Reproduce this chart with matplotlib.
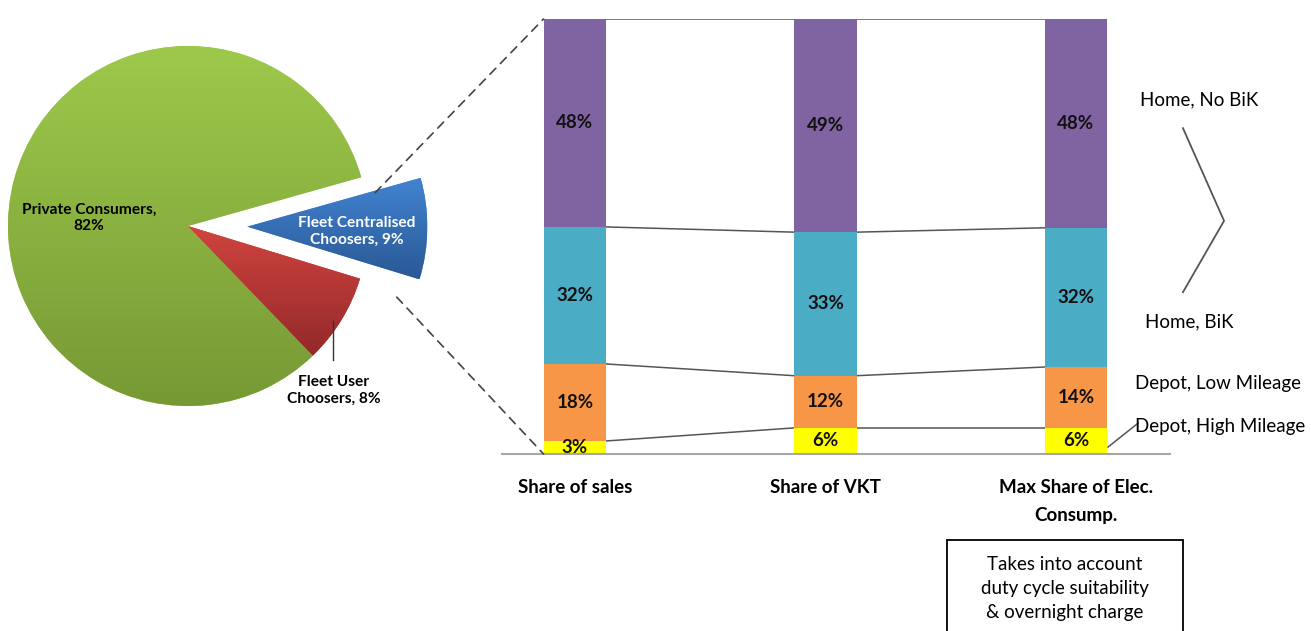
import matplotlib.pyplot as plt
import numpy as np
from matplotlib.patches import ConnectionPatch, Rectangle
from matplotlib.colors import LinearSegmentedColormap

plt.rcParams['font.family'] = ['Lato', 'DejaVu Sans']

# pie data (order = drawing order, counter-clockwise)
pie_labels = ['Fleet Centralised\nChoosers, 9%', 'Private Consumers,\n82%', 'Fleet User\nChoosers, 8%']
pie_shares = [9, 82, 8]
pie_top = ['#4284D2', '#9DC94B', '#D0443F']
pie_bottom = ['#2A5894', '#779935', '#93292A']

# stacked bar data
bar_cats = ['Share of sales', 'Share of VKT', 'Max Share of Elec.\nConsump.']
seg_names = ['Depot, High Mileage', 'Depot, Low Mileage', 'Home, BiK', 'Home, No BiK']
depot_high = [3.0, 6.0, 6.0]
depot_low = [17.7, 12.0, 14.0]
home_bik = [31.5, 33.0, 32.0]
home_nobik = [47.8, 49.0, 48.0]
seg_colors = ['#FFFF00', '#F79646', '#4BACC6', '#8064A2']

box_text = 'Takes into account\nduty cycle suitability\n& overnight charge'


def fill_gradient(ax, wedge, c_top, c_bot):
    """paint a vertical gradient inside a pie wedge"""
    ext = wedge.get_path().get_extents()
    grad = np.linspace(0, 1, 256)[:, None]
    cmap = LinearSegmentedColormap.from_list('g', [c_top, c_bot])
    im = ax.imshow(grad, cmap=cmap, extent=[ext.x0, ext.x1, ext.y0, ext.y1],
                   origin='upper', aspect='auto', zorder=wedge.get_zorder() + 0.1)
    im.set_clip_path(wedge)


fig = plt.figure(figsize=(13.11, 6.31), dpi=100)

################################################################################
# pie
################################################################################
ax_pie = fig.add_axes([0.0006, 0.328, 0.3487, 0.6276])
wedges, _ = ax_pie.pie(pie_shares, colors=pie_top, startangle=-17,
                       explode=[0.33, 0, 0], radius=1.0)
for w, ct, cb in zip(wedges, pie_top, pie_bottom):
    fill_gradient(ax_pie, w, ct, cb)
ax_pie.set_xlim(-1.04, 1.5)
ax_pie.set_ylim(-1.1, 1.1)
ax_pie.set_aspect('auto')
ax_pie.axis('off')

ax_pie.text(0.94, -0.03, pie_labels[0], ha='center', va='center', color='white',
            fontsize=11.2, fontweight='bold', zorder=5, linespacing=1.25)
ax_pie.text(-0.55, 0.045, pie_labels[1], ha='center', va='center', color='black',
            fontsize=11.2, fontweight='bold', zorder=5, linespacing=1.25)
ax_pie.text(0.81, -0.915, pie_labels[2], ha='center', va='center', color='black',
            fontsize=11.2, fontweight='bold', zorder=5, linespacing=1.25)
ax_pie.plot([0.806, 0.806], [-0.53, -0.745], color='#333333', lw=1)

################################################################################
# stacked bars
################################################################################
ax = fig.add_axes([0.3829, 0.2805, 0.5095, 0.6894])
x = np.arange(len(bar_cats))
w = 0.25
series = [depot_high, depot_low, home_bik, home_nobik]
bottom = np.zeros(len(bar_cats))
tops = []
for vals, col in zip(series, seg_colors):
    vals = np.array(vals)
    ax.bar(x, vals, w, bottom=bottom, color=col, zorder=2)
    for xi, b, v in zip(x, bottom, vals):
        ax.text(xi, b + v / 2, '{:.0f}%'.format(v), ha='center', va='center',
                fontsize=13.5, fontweight='bold', color='#111111', zorder=3)
    bottom = bottom + vals
    tops.append(bottom.copy())

# connector lines between bars at each segment boundary
for lev in tops:
    for i in range(len(x) - 1):
        ax.plot([x[i] + w / 2, x[i + 1] - w / 2], [lev[i], lev[i + 1]],
                color='#555555', lw=1.1, zorder=1)

ax.set_xlim(-0.291, 2.375)
ax.set_ylim(0, 100)
for s in ['top', 'right', 'left']:
    ax.spines[s].set_visible(False)
ax.spines['bottom'].set_color('#A6A6A6')
ax.spines['bottom'].set_linewidth(1.5)
ax.set_yticks([])
ax.set_xticks(x)
ax.set_xticklabels(bar_cats, fontsize=13.5, fontweight='bold')
ax.tick_params(axis='x', length=0, pad=18)
for t in ax.get_xticklabels():
    t.set_linespacing(1.8)

# segment names on the right
ax.text(2.255, 81.4, seg_names[3], fontsize=13.5, va='center', ha='left')
ax.text(2.275, 30.3, seg_names[2], fontsize=13.5, va='center', ha='left')
ax.text(2.235, 16.1, seg_names[1], fontsize=13.5, va='center', ha='left')
ax.text(2.235, 6.3, seg_names[0], fontsize=13.5, va='center', ha='left')
ax.plot([2.427, 2.591, 2.427], [74.9, 53.6, 37.2], color='#555555', lw=1.3,
        clip_on=False)
ax.plot([2.128, 2.248], [1.6, 7.1], color='#555555', lw=1.1, clip_on=False)

# dashed zoom lines from the exploded wedge to the first bar
for pa, pb in [((1.04, 0.185), (-w / 2, 100)), ((1.16, -0.395), (-w / 2, 0))]:
    con = ConnectionPatch(xyA=pa, coordsA=ax_pie.transData, xyB=pb,
                          coordsB=ax.transData, linestyle=(0, (5, 4)),
                          color='#444444', lw=1.2)
    fig.add_artist(con)

# note box
fig.add_artist(Rectangle((0.7224, -0.05), 0.18, 0.1942, transform=fig.transFigure,
                         fill=False, edgecolor='black', lw=1.3))
fig.text(0.8124, 0.068, box_text, ha='center', va='center', fontsize=13.5,
         linespacing=1.5)

plt.savefig('out.png', dpi=100)
